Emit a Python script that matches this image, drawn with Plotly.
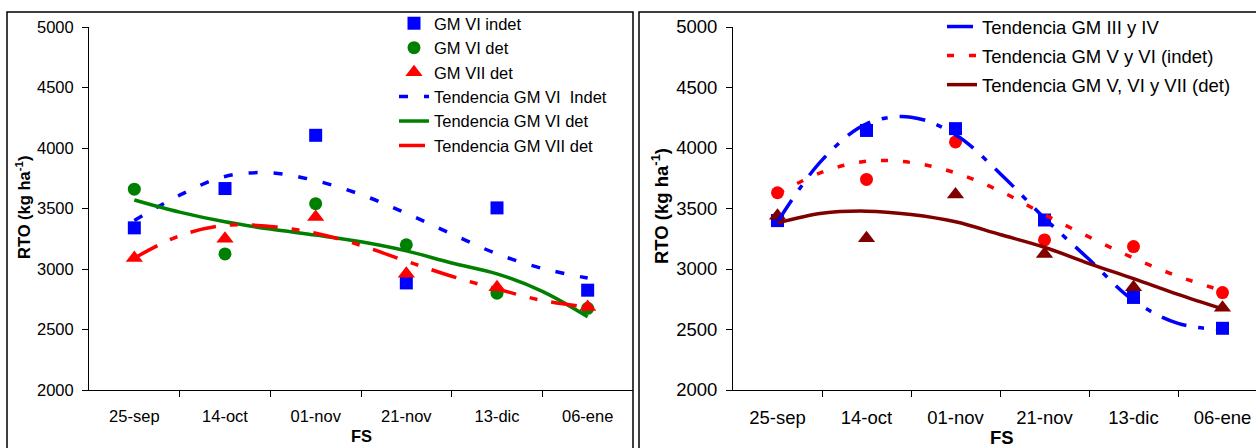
import plotly.graph_objects as go

# ---------------- data ----------------
fechas = ["25-sep", "14-oct", "01-nov", "21-nov", "13-dic", "06-ene"]
pos = [0, 1, 2, 3, 4, 5]
# positions along the sowing-date axis where the trend curves were read
trend_pos = [0, 0.5, 1, 1.5, 2, 2.5, 3, 3.5, 4, 4.5, 5]

# left panel: observed yields
gm6_indet = [3340, 3665, 4105, 2885, 3505, 2825]
gm6_det = [3660, 3125, 3540, 3200, 2800, 2675]
gm7_det = [3090, 3250, 3430, 2960, 2850, 2685]
# left panel: trend curves
tend_gm6_indet = [3400, 3610, 3765, 3795, 3730, 3615, 3460, 3290, 3125, 3005, 2925]
tend_gm6_det = [3570, 3470, 3390, 3330, 3280, 3225, 3150, 3050, 2960, 2815, 2605]
tend_gm7_det = [3090, 3275, 3360, 3352, 3295, 3195, 3065, 2940, 2835, 2740, 2685]

# right panel: observed yields
gm34 = [3400, 4145, 4160, 3405, 2765, 2510]
gm56_indet = [3630, 3740, 4050, 3240, 3185, 2805]
gm567_det = [3440, 3255, 3615, 3125, 2850, 2680]
# right panel: trend curves
tend_gm34 = [3390, 3900, 4200, 4255, 4110, 3790, 3420, 3080, 2740, 2550, 2500]
tend_gm56_indet = [3620, 3800, 3890, 3880, 3795, 3645, 3450, 3265, 3090, 2940, 2820]
tend_gm567_det = [3380, 3460, 3478, 3450, 3390, 3285, 3180, 3045, 2920, 2790, 2670]

yticks = [2000, 2500, 3000, 3500, 4000, 4500, 5000]

# ---------------- style ----------------
FONT = "Liberation Sans, Arial, sans-serif"
W, H = 1256, 448
BLUE, GREEN, RED, DRED = "#0000FF", "#008000", "#FF0000", "#800000"

def px_x(p):
    return p / W

def px_y(p):
    return 1 - p / H

fig = go.Figure()

# left panel markers
fig.add_trace(go.Scatter(x=pos, y=gm6_indet, mode="markers", name="GM VI indet",
                         marker=dict(symbol="square", size=13, color=BLUE),
                         xaxis="x", yaxis="y", legend="legend", legendgroup="a1"))
fig.add_trace(go.Scatter(x=pos, y=gm6_det, mode="markers", name="GM VI det",
                         marker=dict(symbol="circle", size=13, color=GREEN),
                         xaxis="x", yaxis="y", legend="legend", legendgroup="a2"))
fig.add_trace(go.Scatter(x=pos, y=gm7_det, mode="markers", name="GM VII det",
                         marker=dict(symbol="triangle-up", size=15, color=RED),
                         xaxis="x", yaxis="y", legend="legend", legendgroup="a3"))
# left panel trends
fig.add_trace(go.Scatter(x=trend_pos, y=tend_gm6_indet, mode="lines", name="Tendencia GM VI  Indet",
                         line=dict(color=BLUE, width=3.5, dash="9px,16px", shape="spline"),
                         xaxis="x", yaxis="y", legend="legend", legendgroup="a4"))
fig.add_trace(go.Scatter(x=trend_pos, y=tend_gm6_det, mode="lines", name="Tendencia GM VI det",
                         line=dict(color=GREEN, width=3.5, shape="spline"),
                         xaxis="x", yaxis="y", legend="legend", legendgroup="a5"))
fig.add_trace(go.Scatter(x=trend_pos, y=tend_gm7_det, mode="lines", name="Tendencia GM VII det",
                         line=dict(color=RED, width=3.5, dash="26px,14px,8px,14px", shape="spline"),
                         xaxis="x", yaxis="y", legend="legend", legendgroup="a6"))

# right panel markers
fig.add_trace(go.Scatter(x=pos, y=gm34, mode="markers", name="GM III y IV",
                         marker=dict(symbol="square", size=13, color=BLUE),
                         xaxis="x2", yaxis="y2", showlegend=False))
fig.add_trace(go.Scatter(x=pos, y=gm56_indet, mode="markers", name="GM V y VI (indet)",
                         marker=dict(symbol="circle", size=13, color=RED),
                         xaxis="x2", yaxis="y2", showlegend=False))
fig.add_trace(go.Scatter(x=pos, y=gm567_det, mode="markers", name="GM V, VI y VII (det)",
                         marker=dict(symbol="triangle-up", size=15, color=DRED),
                         xaxis="x2", yaxis="y2", showlegend=False))
# right panel trends
fig.add_trace(go.Scatter(x=trend_pos, y=tend_gm34, mode="lines", name="Tendencia GM III y IV",
                         line=dict(color=BLUE, width=3.5, dash="26px,12px,6px,12px", shape="spline"),
                         xaxis="x2", yaxis="y2", legend="legend2", legendgroup="b1"))
fig.add_trace(go.Scatter(x=trend_pos, y=tend_gm56_indet, mode="lines", name="Tendencia GM V y VI (indet)",
                         line=dict(color=RED, width=3.5, dash="7px,15px", shape="spline"),
                         xaxis="x2", yaxis="y2", legend="legend2", legendgroup="b2"))
fig.add_trace(go.Scatter(x=trend_pos, y=tend_gm567_det, mode="lines", name="Tendencia GM V, VI y VII (det)",
                         line=dict(color=DRED, width=3.5, shape="spline"),
                         xaxis="x2", yaxis="y2", legend="legend2", legendgroup="b3"))

ydom = [px_y(390), px_y(27)]

def xaxis_cfg(domain, rng, size):
    return dict(domain=domain, range=rng, tickmode="array", tickvals=pos, ticktext=fechas,
                ticks="", showline=True, linecolor="black", linewidth=1, automargin=False,
                showgrid=False, zeroline=False, ticklabelstandoff=11,
                tickfont=dict(family=FONT, size=size, color="black"),
                minor=dict(tickmode="array", tickvals=[0.5, 1.5, 2.5, 3.5, 4.5],
                           ticks="outside", ticklen=6, tickcolor="black", tickwidth=1))

def yaxis_cfg(anchor, size):
    return dict(domain=ydom, range=[2000, 5000], tickmode="array", tickvals=yticks,
                ticks="outside", ticklen=6, tickcolor="black", showline=True,
                linecolor="black", linewidth=1, showgrid=False, zeroline=False,
                anchor=anchor, ticklabelstandoff=5, automargin=False,
                tickfont=dict(family=FONT, size=size, color="black"))

fig.update_layout(
    width=W, height=H,
    margin=dict(l=0, r=0, t=0, b=0, autoexpand=False),
    paper_bgcolor="white", plot_bgcolor="white",
    font=dict(family=FONT, color="black"),
    xaxis=xaxis_cfg([px_x(89), px_x(633)], [-0.5, 5.5], 16.5) | dict(anchor="y"),
    yaxis=yaxis_cfg("x", 16.5),
    xaxis2=xaxis_cfg([px_x(733), 1.0], [-0.5, -0.5 + (W - 733) / 89.0], 18.5) | dict(anchor="y2"),
    yaxis2=yaxis_cfg("x2", 18.5),
    legend=dict(x=px_x(394), y=px_y(6), xanchor="left", yanchor="top",
                bgcolor="rgba(0,0,0,0)", borderwidth=0, tracegroupgap=0,
                font=dict(family=FONT, size=16.5, color="black")),
    legend2=dict(x=px_x(942), y=px_y(8), xanchor="left", yanchor="top",
                 bgcolor="rgba(0,0,0,0)", borderwidth=0, tracegroupgap=2,
                 font=dict(family=FONT, size=18.5, color="black")),
    showlegend=True,
)

# panel frames
fig.add_shape(type="rect", xref="paper", yref="paper",
              x0=px_x(7), x1=px_x(633), y0=-0.2, y1=px_y(12),
              line=dict(color="black", width=1.5), layer="below")
fig.add_shape(type="rect", xref="paper", yref="paper",
              x0=px_x(639), x1=1.2, y0=-0.2, y1=px_y(12),
              line=dict(color="black", width=1.5), layer="below")

# axis titles
fig.add_annotation(text="<b>RTO (kg ha<sup>-1</sup>)</b>", xref="paper", yref="paper",
                   x=px_x(23), y=px_y(207), textangle=-90, showarrow=False,
                   xanchor="center", yanchor="middle",
                   font=dict(family=FONT, size=16.5, color="black"))
fig.add_annotation(text="<b>RTO (kg ha<sup>-1</sup>)</b>", xref="paper", yref="paper",
                   x=px_x(660), y=px_y(206), textangle=-90, showarrow=False,
                   xanchor="center", yanchor="middle",
                   font=dict(family=FONT, size=18.5, color="black"))
fig.add_annotation(text="<b>FS</b>", xref="paper", yref="paper",
                   x=px_x(361), y=px_y(436), showarrow=False,
                   xanchor="center", yanchor="middle",
                   font=dict(family=FONT, size=16.5, color="black"))
fig.add_annotation(text="<b>FS</b>", xref="paper", yref="paper",
                   x=px_x(1002), y=px_y(437), showarrow=False,
                   xanchor="center", yanchor="middle",
                   font=dict(family=FONT, size=18.5, color="black"))

fig.write_html("out.html")
